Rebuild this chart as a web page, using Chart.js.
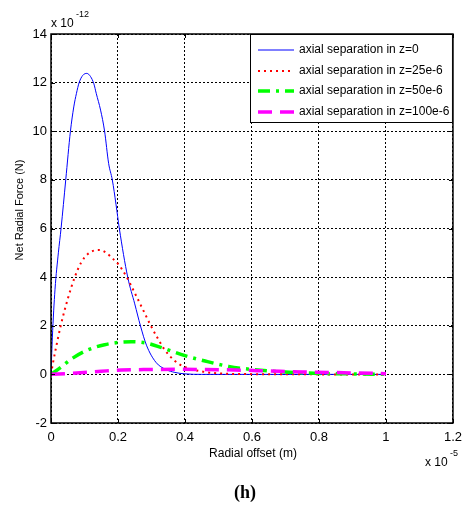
<!DOCTYPE html>
<html>
<head>
<meta charset="utf-8">
<script src="https://cdn.jsdelivr.net/npm/chart.js@4"></script>
<style>
  body { margin: 0; background: #fff; }
  canvas { display: block; }
</style>
</head>
<body>
<canvas id="forceChart" width="469" height="508"></canvas>
<script>
// values (x in units of 1e-5 m, y in units of 1e-12 N)
const xTicks = [0, 0.2, 0.4, 0.6, 0.8, 1, 1.2];
const yTicks = [-2, 0, 2, 4, 6, 8, 10, 12, 14];

const seriesNames = [
    'axial separation in z=0',
    'axial separation in z=25e-6',
    'axial separation in z=50e-6',
    'axial separation in z=100e-6'
];

const offsetZ0 = [0, 0.004, 0.012, 0.022, 0.03, 0.044, 0.058, 0.068, 0.076, 0.084, 0.095, 0.107, 0.118, 0.128, 0.135, 0.148, 0.16, 0.172, 0.183, 0.194, 0.204, 0.229, 0.25, 0.267, 0.285, 0.313, 0.343, 0.37, 0.4, 0.45, 0.6, 0.8, 1.0];
const forceZ0 = [0, 1.5, 3.5, 5, 6, 8, 10, 11, 11.56, 12, 12.3, 12.38, 12.25, 11.95, 11.56, 10.87, 10, 8.68, 8, 7, 6, 4, 2.9, 2, 1.2, 0.5, 0.2, 0.08, 0.02, 0, 0, 0, 0];

const offsetZ25 = [0, 0.005, 0.015, 0.029, 0.05, 0.071, 0.09, 0.11, 0.13, 0.145, 0.165, 0.185, 0.2, 0.226, 0.25, 0.275, 0.298, 0.32, 0.34, 0.37, 0.4, 0.45, 0.5, 0.6, 0.8, 1.0];
const forceZ25 = [0, 0.4, 1.1, 2, 3.1, 4, 4.6, 4.95, 5.1, 5.12, 5.0, 4.75, 4.55, 4, 3.35, 2.65, 2, 1.45, 1, 0.55, 0.3, 0.12, 0.04, 0.01, 0, 0];

const offsetZ50 = [0, 0.03, 0.066, 0.116, 0.16, 0.2, 0.24, 0.28, 0.33, 0.4, 0.46, 0.53, 0.6, 0.7, 0.8, 0.9, 1.0];
const forceZ50 = [0, 0.3, 0.68, 1.04, 1.22, 1.31, 1.34, 1.3, 1.1, 0.77, 0.55, 0.33, 0.2, 0.1, 0.04, 0.02, 0];

const offsetZ100 = [0, 0.066, 0.15, 0.21, 0.3, 0.38, 0.46, 0.55, 0.65, 0.75, 0.9, 1.0];
const forceZ100 = [0, 0.05, 0.13, 0.18, 0.2, 0.21, 0.2, 0.18, 0.14, 0.1, 0.06, 0.03];

function toPoints(xs, ys) {
    return xs.map((x, i) => ({ x: x, y: ys[i] }));
}

const FONT = '"Liberation Sans", Arial, sans-serif';

// frame, inside ticks, legend box and extra labels (MATLAB look)
const matlabDecor = {
    id: 'matlabDecor',
    afterDraw(chart) {
        const c = chart.ctx;
        const a = chart.chartArea;
        const xs = chart.scales.x, ys = chart.scales.y;
        c.save();

        // inside tick marks
        c.strokeStyle = '#000';
        c.lineWidth = 1;
        c.setLineDash([]);
        c.beginPath();
        xTicks.forEach(t => {
            const px = Math.round(xs.getPixelForValue(t)) + 0.5;
            c.moveTo(px, a.bottom); c.lineTo(px, a.bottom - 4);
            c.moveTo(px, a.top); c.lineTo(px, a.top + 4);
        });
        yTicks.forEach(t => {
            const py = Math.round(ys.getPixelForValue(t)) + 0.5;
            c.moveTo(a.left, py); c.lineTo(a.left + 4, py);
            c.moveTo(a.right, py); c.lineTo(a.right - 4, py);
        });
        c.stroke();

        // axes box
        c.lineWidth = 1.5;
        c.strokeRect(a.left, a.top, a.right - a.left, a.bottom - a.top);

        // legend
        const lx = 250, ly = a.top, lw = a.right - lx, lh = 89;
        c.fillStyle = '#fff';
        c.fillRect(lx, ly, lw, lh);
        c.lineWidth = 1;
        c.strokeRect(lx + 0.5, ly + 0.5, lw - 1, lh - 1);
        const rowY = [50, 71, 91, 112];
        c.font = '12px ' + FONT;
        c.textBaseline = 'middle';
        c.textAlign = 'left';
        chart.data.datasets.forEach((ds, i) => {
            c.strokeStyle = ds.borderColor;
            c.lineWidth = ds.borderWidth;
            c.setLineDash(ds.borderDash || []);
            c.beginPath();
            c.moveTo(258, rowY[i]);
            c.lineTo(294, rowY[i]);
            c.stroke();
            c.setLineDash([]);
            c.fillStyle = '#000';
            c.fillText(seriesNames[i], 299, rowY[i]);
        });

        // axis titles and exponents
        c.fillStyle = '#000';
        c.font = '12px ' + FONT;
        c.textAlign = 'center';
        c.fillText('Radial offset (m)', 253, 454);
        c.save();
        c.translate(20, 210);
        c.rotate(-Math.PI / 2);
        c.font = '11px ' + FONT;
        c.fillText('Net Radial Force (N)', 0, 0);
        c.restore();

        c.textAlign = 'left';
        c.font = '12px ' + FONT;
        c.fillText('x 10', 51, 24);
        c.font = '9px ' + FONT;
        c.fillText('-12', 76, 15);
        c.font = '12px ' + FONT;
        c.fillText('x 10', 425, 463);
        c.font = '9px ' + FONT;
        c.fillText('-5', 450, 454);

        // panel caption
        c.font = 'bold 18px "Liberation Serif", "Times New Roman", serif';
        c.textAlign = 'center';
        c.fillText('(h)', 245, 493);
        c.restore();
    }
};

const ctx = document.getElementById('forceChart').getContext('2d');

const config = {
    type: 'scatter',
    data: {
        datasets: [{
            label: seriesNames[0],
            data: toPoints(offsetZ0, forceZ0),
            borderColor: '#0000ff',
            borderWidth: 1,
            order: 3
        }, {
            label: seriesNames[1],
            data: toPoints(offsetZ25, forceZ25),
            borderColor: '#ff0000',
            borderWidth: 2,
            borderDash: [2, 4],
            order: 2
        }, {
            label: seriesNames[2],
            data: toPoints(offsetZ50, forceZ50),
            borderColor: '#00ff00',
            borderWidth: 3.5,
            borderDash: [12, 6, 3, 6],
            order: 1
        }, {
            label: seriesNames[3],
            data: toPoints(offsetZ100, forceZ100),
            borderColor: '#ff00ff',
            borderWidth: 3.5,
            borderDash: [14, 8],
            order: 0
        }]
    },
    options: {
        responsive: false,
        animation: false,
        showLine: true,
        layout: { padding: { top: 34, right: 12, left: 0, bottom: 0 } },
        elements: {
            point: { radius: 0 },
            line: { cubicInterpolationMode: 'monotone', fill: false }
        },
        scales: {
            x: {
                type: 'linear',
                min: 0,
                max: 1.2,
                afterFit: s => { s.height = 85; },
                afterBuildTicks: s => { s.ticks = xTicks.map(v => ({ value: v })); },
                ticks: {
                    color: '#000',
                    padding: 7,
                    font: { size: 13, family: FONT },
                    callback: v => String(Math.round(v * 10) / 10)
                },
                grid: { color: '#000', lineWidth: 1, drawTicks: false },
                border: { display: false, dash: [2, 2] }
            },
            y: {
                type: 'linear',
                min: -2,
                max: 14,
                afterFit: s => { s.width = 51; },
                afterBuildTicks: s => { s.ticks = yTicks.map(v => ({ value: v })); },
                ticks: {
                    color: '#000',
                    padding: 4,
                    font: { size: 13, family: FONT }
                },
                grid: { color: '#000', lineWidth: 1, drawTicks: false },
                border: { display: false, dash: [2, 2] }
            }
        },
        plugins: {
            legend: { display: false },
            tooltip: { enabled: false }
        }
    },
    plugins: [matlabDecor]
};

const forceChart = new Chart(ctx, config);
</script>
</body>
</html>
